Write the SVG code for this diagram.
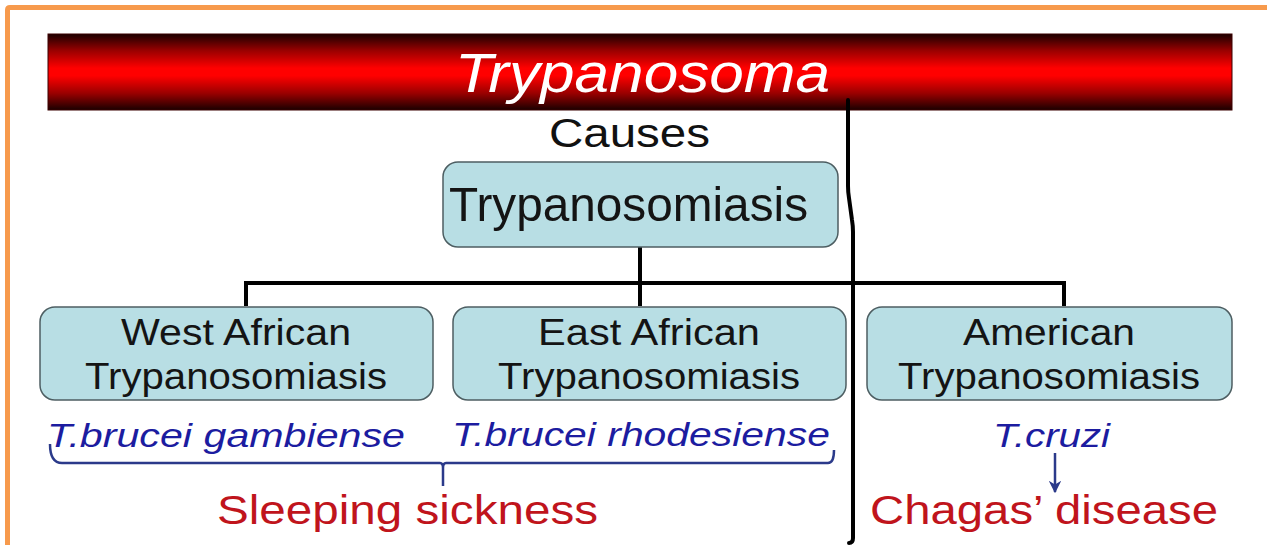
<svg xmlns="http://www.w3.org/2000/svg" width="1267" height="545" viewBox="0 0 1267 545">
<defs>
<linearGradient id="bar" x1="0" y1="0" x2="0" y2="1">
<stop offset="0" stop-color="#1a0000"/>
<stop offset="0.22" stop-color="#9a0000"/>
<stop offset="0.45" stop-color="#ff0000"/>
<stop offset="0.55" stop-color="#ff0000"/>
<stop offset="0.78" stop-color="#9a0000"/>
<stop offset="1" stop-color="#1a0000"/>
</linearGradient>
<marker id="arr" viewBox="0 0 10 10" refX="9" refY="5" markerWidth="5" markerHeight="5" orient="auto">
<path d="M0,0 L10,5 L0,10 L3,5 z" fill="#2b3a8a"/>
</marker>
<style>
.box{fill:#b8dee4;stroke:#4d5e62;stroke-width:1.5}
.bt{font-family:"Liberation Sans",Arial,sans-serif;fill:#141414;text-anchor:middle;font-size:37px}
.sp{font-family:"Liberation Sans",Arial,sans-serif;font-style:italic;fill:#1c1ca0;font-size:34px}
.dz{font-family:"Liberation Sans",Arial,sans-serif;fill:#c0141c;font-size:41px}
.con{stroke:#000;stroke-width:4;fill:none}
</style>
</defs>
<rect width="1267" height="545" fill="#fff"/>
<path d="M7.5,545 V10 Q7.5,7.5 10,7.5 H1267" fill="none" stroke="#f79a4c" stroke-width="5"/>
<g id="title">
<rect x="48" y="34" width="1184" height="76" fill="url(#bar)" stroke="#3a0000" stroke-width="1"/>
<text x="455" y="92" font-family="'Liberation Sans',Arial,sans-serif" font-style="italic" font-size="56" fill="#fff" textLength="375" lengthAdjust="spacingAndGlyphs">Trypanosoma</text>
</g>
<g id="causes">
<text x="549" y="147" font-family="'Liberation Sans',Arial,sans-serif" font-size="40" fill="#111" textLength="161" lengthAdjust="spacingAndGlyphs">Causes</text>
</g>
<g id="connectors">
<path class="con" d="M640,247 V283 M246,306 V283 H1064 V306 M640,283 V306"/>
<path class="con" stroke-linecap="round" d="M848,100 V186 Q848,192 849,198 L852,220 Q853,226 853,232 V538 Q853,543 849,543"/>
<path d="M50,444 Q50,463 62,463 H440 Q443,463 443,468 V486 M443,468 Q443,463 446,463 H828 Q834,463 834,450" fill="none" stroke="#2b3a8a" stroke-width="2.5"/>
<path d="M1055,453 V492" stroke="#2b3a8a" stroke-width="2.5" marker-end="url(#arr)"/>
</g>
<g id="trypanosomiasis">
<rect class="box" x="443" y="162" width="395" height="85" rx="15"/>
<text x="449" y="221" font-family="'Liberation Sans',Arial,sans-serif" font-size="49" fill="#141414" textLength="359" lengthAdjust="spacingAndGlyphs">Trypanosomiasis</text>
</g>
<g id="west">
<rect class="box" x="40" y="307" width="393" height="93" rx="15"/>
<text class="bt" x="236" y="345" textLength="230" lengthAdjust="spacingAndGlyphs">West African</text>
<text class="bt" x="236" y="389" textLength="302" lengthAdjust="spacingAndGlyphs">Trypanosomiasis</text>
</g>
<g id="east">
<rect class="box" x="453" y="307" width="393" height="93" rx="15"/>
<text class="bt" x="649" y="345" textLength="222" lengthAdjust="spacingAndGlyphs">East African</text>
<text class="bt" x="649" y="389" textLength="302" lengthAdjust="spacingAndGlyphs">Trypanosomiasis</text>
</g>
<g id="american">
<rect class="box" x="867" y="307" width="365" height="93" rx="15"/>
<text class="bt" x="1049" y="345" textLength="172" lengthAdjust="spacingAndGlyphs">American</text>
<text class="bt" x="1049" y="389" textLength="302" lengthAdjust="spacingAndGlyphs">Trypanosomiasis</text>
</g>
<g id="species">
<text class="sp" x="47" y="447" textLength="358" lengthAdjust="spacingAndGlyphs">T.brucei gambiense</text>
<text class="sp" x="452" y="446" textLength="378" lengthAdjust="spacingAndGlyphs">T.brucei rhodesiense</text>
<text class="sp" x="993" y="447" textLength="117" lengthAdjust="spacingAndGlyphs">T.cruzi</text>
</g>
<g id="diseases">
<text class="dz" x="217" y="524" textLength="381" lengthAdjust="spacingAndGlyphs">Sleeping  sickness</text>
<text class="dz" x="870" y="524" textLength="348" lengthAdjust="spacingAndGlyphs">Chagas’ disease</text>
</g>
</svg>
